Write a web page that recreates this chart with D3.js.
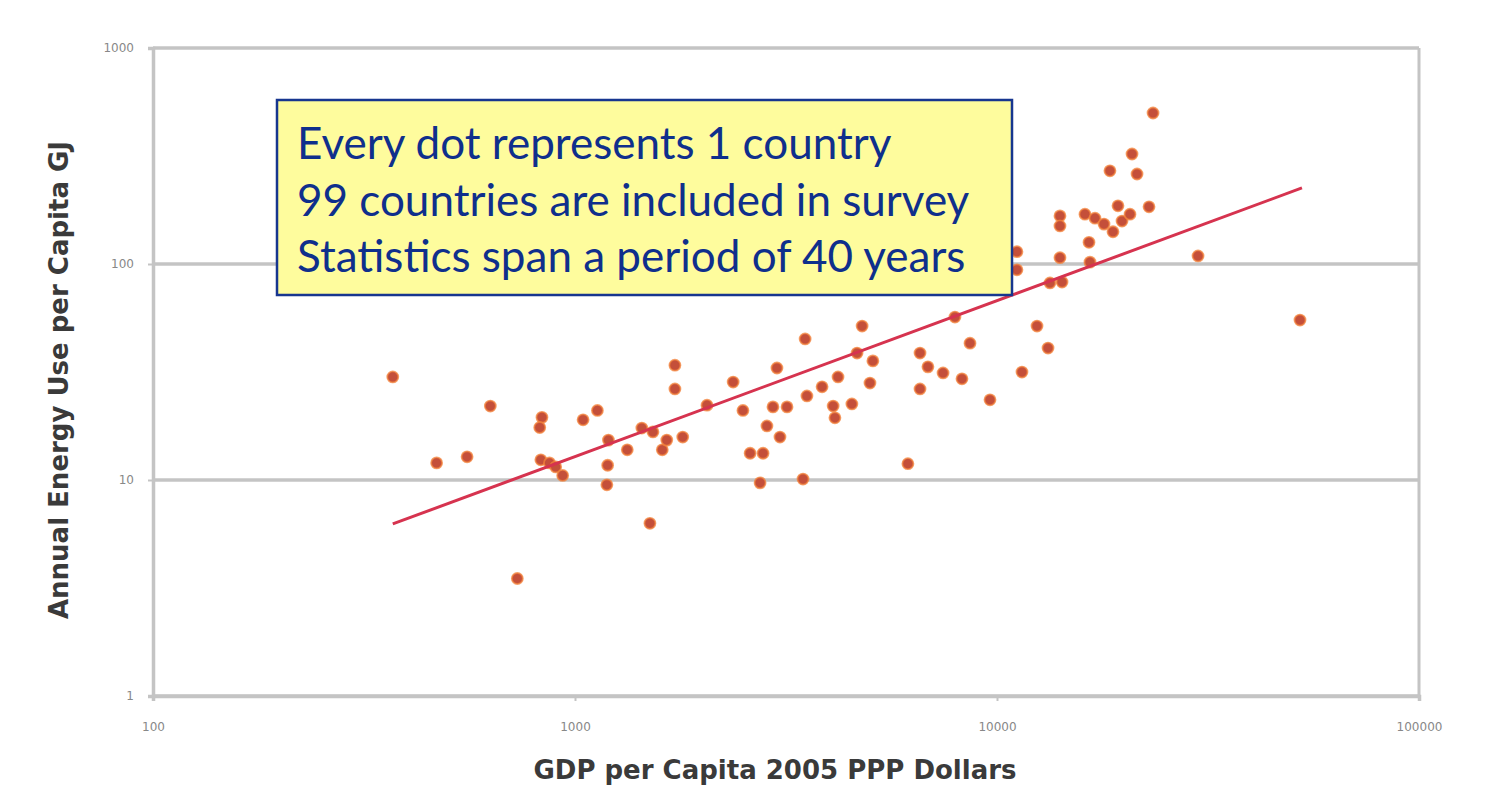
<!DOCTYPE html>
<html>
<head>
<meta charset="utf-8">
<script src="https://cdn.jsdelivr.net/npm/d3@7"></script>
<style>
  body { margin: 0; background: #fff; }
  svg { display: block; }
</style>
</head>
<body>
<div id="chart"></div>
<script>
// GDP per capita (2005 PPP $), one entry per dot
var gdp = [370, 470, 555, 630, 730, 835, 825, 830, 870, 900, 935, 1045, 1130, 1200, 1330,
  1195, 1190, 1440, 1530, 1610, 1650, 1505, 1725, 1725, 1800, 2055, 2370, 2500, 3010, 2945,
  3180, 3510, 2850, 3060, 2600, 2790, 2745, 3470, 3545, 3850, 4200, 4090, 4130, 4530, 4790,
  4660, 5080, 5000, 6150, 6570, 6860, 7450, 6570, 7950, 8260, 8630, 9625, 11460, 12440, 13210,
  11150, 11150, 13350, 14260, 14100, 16610, 16520, 18830, 14100, 14100, 16160, 17070, 17930, 19780, 20660,
  19350, 22920, 18520, 21470, 20890, 23430, 29950, 52240]
// annual energy use per capita (GJ), same order
var energy = [30, 12, 12.8, 22, 3.5, 19.5, 17.5, 12.4, 12, 11.5, 10.5, 19, 21, 15.3, 13.8,
  11.7, 9.5, 17.4, 16.7, 13.8, 15.3, 6.3, 34, 26.4, 15.8, 22.2, 28.4, 21, 33, 21.8,
  21.8, 45, 17.8, 15.8, 13.3, 13.3, 9.7, 10.1, 24.5, 27, 30, 22, 19.4, 22.5, 51.6,
  38.7, 35.6, 28.1, 11.9, 38.7, 33.4, 31.3, 26.4, 56.8, 29.4, 43, 23.5, 31.6, 51.6, 40.8,
  114, 94, 81.7, 82.5, 107, 102, 126, 141, 167, 150, 170, 163, 153, 158, 170,
  186, 184, 270, 261, 323, 500, 109, 55]

// fitted trend line end points
var trendGdp = [370, 52800]
var trendEnergy = [6.26, 225]

var xTicks = [100, 1000, 10000, 100000]
var yTicks = [1, 10, 100, 1000]

var notes = ['Every dot represents 1 country',
  '99 countries are included in survey',
  'Statistics span a period of 40 years']

var width = 1485, height = 802
var margin = {top: 48, right: 66, bottom: 106, left: 153}

var svg = d3.select('#chart').append('svg')
  .attr('width', width)
  .attr('height', height)

var x = d3.scaleLog().domain([100, 100000]).range([margin.left, width - margin.right])
var y = d3.scaleLog().domain([1, 1000]).range([height - margin.bottom, margin.top])

var grey = '#c4c4c4'

// horizontal grid lines
svg.append('g').selectAll('line')
  .data(yTicks)
  .enter().append('line')
    .attr('x1', x(100)).attr('x2', x(100000))
    .attr('y1', function(d) { return y(d) })
    .attr('y2', function(d) { return y(d) })
    .attr('stroke', grey)
    .attr('stroke-width', 3.5)

// right border
svg.append('line')
  .attr('x1', x(100000)).attr('x2', x(100000))
  .attr('y1', y(1000)).attr('y2', y(1))
  .attr('stroke', grey).attr('stroke-width', 3)

// x axis
var xAxis = svg.append('g')
  .attr('transform', 'translate(0,' + y(1) + ')')
  .call(d3.axisBottom(x).tickValues(xTicks).tickFormat(d3.format('d')).tickSize(5).tickPadding(21))
xAxis.select('.domain').attr('stroke', grey).attr('stroke-width', 3.5)
xAxis.selectAll('.tick line').attr('stroke', grey).attr('stroke-width', 2)
xAxis.selectAll('text')
  .attr('fill', '#888')
  .style('font-family', 'DejaVu Sans')
  .style('font-size', '12px')

// y axis
var yAxis = svg.append('g')
  .attr('transform', 'translate(' + x(100) + ',0)')
  .call(d3.axisLeft(y).tickValues(yTicks).tickFormat(d3.format('d')).tickSize(5).tickPadding(14))
yAxis.select('.domain').attr('stroke', grey).attr('stroke-width', 3.5)
yAxis.selectAll('.tick line').attr('stroke', grey).attr('stroke-width', 2)
yAxis.selectAll('text')
  .attr('fill', '#888')
  .style('font-family', 'DejaVu Sans')
  .style('font-size', '12px')

// axis titles
svg.append('text')
  .attr('x', 775)
  .attr('y', 779)
  .attr('text-anchor', 'middle')
  .attr('fill', '#3a3a3a')
  .style('font-family', 'DejaVu Sans')
  .style('font-weight', 'bold')
  .style('font-size', '26px')
  .text('GDP per Capita 2005 PPP Dollars')

svg.append('text')
  .attr('transform', 'translate(68,380) rotate(-90)')
  .attr('text-anchor', 'middle')
  .attr('fill', '#3a3a3a')
  .style('font-family', 'DejaVu Sans')
  .style('font-weight', 'bold')
  .style('font-size', '26px')
  .text('Annual Energy Use per Capita GJ')

// dots
var pts = d3.zip(gdp, energy)
svg.append('g').selectAll('circle')
  .data(pts)
  .enter().append('circle')
    .attr('cx', function(d) { return x(d[0]) })
    .attr('cy', function(d) { return y(d[1]) })
    .attr('r', 5.5)
    .attr('fill', '#c44f3a')
    .attr('stroke', '#f3823a')
    .attr('stroke-opacity', 0.75)
    .attr('stroke-width', 1.8)

// trend line
svg.append('path')
  .datum(d3.zip(trendGdp, trendEnergy))
  .attr('d', d3.line().x(function(d) { return x(d[0]) }).y(function(d) { return y(d[1]) }))
  .attr('stroke', '#d6334f')
  .attr('stroke-width', 3)
  .attr('fill', 'none')

// annotation box
svg.append('rect')
  .attr('x', 277).attr('y', 100)
  .attr('width', 735).attr('height', 195)
  .attr('fill', '#fefc9d')
  .attr('stroke', '#17368f')
  .attr('stroke-width', 2.5)

svg.append('g').selectAll('text')
  .data(notes)
  .enter().append('text')
    .attr('x', 297)
    .attr('y', function(d, i) { return 159 + i * 56.5 })
    .attr('fill', '#0f2f8c')
    .style('font-family', 'Lato')
    .style('font-size', '44px')
    .text(function(d) { return d })
</script>
</body>
</html>
